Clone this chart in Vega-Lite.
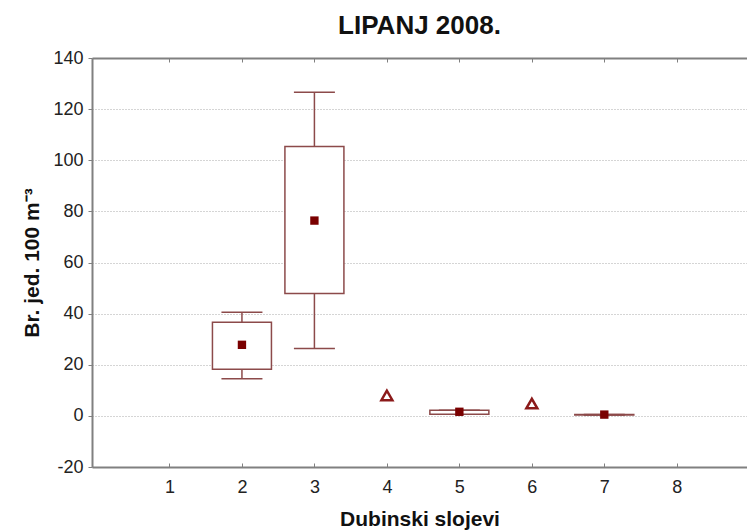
{
  "$schema": "https://vega.github.io/schema/vega-lite/v6.json",
  "width": 655,
  "height": 409,
  "autosize": "none",
  "padding": {"left": 92, "top": 58, "right": 0, "bottom": 65},
  "background": "white",
  "config": {
    "view": {"stroke": null},
    "font": "Liberation Sans"
  },
  "title": {
    "text": "LIPANJ 2008.",
    "fontSize": 26,
    "fontWeight": "bold",
    "font": "Liberation Sans",
    "color": "#111111",
    "anchor": "middle",
    "offset": 10
  },
  "datasets": {
    "boxes": [
      {"sloj": 2, "lo": 14.5, "q1": 18.2, "q3": 36.6, "hi": 40.5, "mean": 27.8},
      {"sloj": 3, "lo": 26.4, "q1": 47.9, "q3": 105.4, "hi": 126.6, "mean": 76.4},
      {"sloj": 5, "lo": 0.6, "q1": 0.6, "q3": 2.2, "hi": 2.2, "mean": 1.6},
      {"sloj": 7, "lo": 0.3, "q1": 0.3, "q3": 0.5, "hi": 0.5, "mean": 0.5}
    ],
    "single": [
      {"sloj": 4, "value": 8},
      {"sloj": 6, "value": 4.8}
    ]
  },
  "resolve": {"scale": {"x": "shared", "y": "shared"}, "axis": {"x": "independent"}},
  "layer": [
    {
      "data": {"name": "boxes"},
      "mark": {"type": "rule", "color": "#8c4a4a", "strokeWidth": 1.5},
      "encoding": {
        "x": {
          "field": "sloj", "type": "quantitative",
          "scale": {"domain": [0, 8.9], "nice": false, "zero": false},
          "axis": {
            "orient": "bottom",
            "title": "Dubinski slojevi",
            "values": [1, 2, 3, 4, 5, 6, 7, 8],
            "format": "d",
            "grid": false,
            "domainColor": "#808080",
            "domainWidth": 2,
            "tickColor": "#808080",
            "tickSize": -4,
            "tickWidth": 1,
            "labelFontSize": 18,
            "labelColor": "#222222",
            "labelPadding": 15,
            "titleFontSize": 21,
            "titleFontWeight": "bold",
            "titleColor": "#111111",
            "titlePadding": 12
          }
        },
        "y": {
          "field": "lo", "type": "quantitative",
          "scale": {"domain": [-20, 140], "nice": false, "zero": false},
          "axis": {
            "title": "Br. jed. 100 m⁻³",
            "values": [-20, 0, 20, 40, 60, 80, 100, 120, 140],
            "labelExpr": "datum.value",
            "grid": true,
            "gridColor": "#aaaaaa",
            "gridDash": [1, 2],
            "gridWidth": 1,
            "domainColor": "#808080",
            "domainWidth": 2,
            "tickColor": "#808080",
            "tickSize": 4,
            "labelFontSize": 18,
            "labelColor": "#222222",
            "labelPadding": 5,
            "titleFontSize": 21,
            "titleFontWeight": "bold",
            "titleColor": "#111111",
            "titlePadding": 10
          }
        },
        "y2": {"field": "hi"}
      }
    },
    {
      "data": {"name": "boxes"},
      "mark": {"type": "tick", "orient": "horizontal", "color": "#8c4a4a", "size": 41, "thickness": 1.5, "opacity": 1},
      "encoding": {
        "x": {"field": "sloj", "type": "quantitative", "axis": null},
        "y": {"field": "lo", "type": "quantitative"}
      }
    },
    {
      "data": {"name": "boxes"},
      "mark": {"type": "tick", "orient": "horizontal", "color": "#8c4a4a", "size": 41, "thickness": 1.5, "opacity": 1},
      "encoding": {
        "x": {"field": "sloj", "type": "quantitative", "axis": null},
        "y": {"field": "hi", "type": "quantitative"}
      }
    },
    {
      "data": {"name": "boxes"},
      "mark": {"type": "bar", "fill": "white", "stroke": "#8c4a4a", "strokeWidth": 1.5, "size": 59},
      "encoding": {
        "x": {"field": "sloj", "type": "quantitative", "axis": null},
        "y": {"field": "q1", "type": "quantitative"},
        "y2": {"field": "q3"}
      }
    },
    {
      "data": {"name": "boxes"},
      "mark": {"type": "point", "shape": "square", "filled": true, "color": "#7a0000", "size": 70, "opacity": 1},
      "encoding": {
        "x": {"field": "sloj", "type": "quantitative", "axis": null},
        "y": {"field": "mean", "type": "quantitative"}
      }
    },
    {
      "data": {"name": "single"},
      "mark": {"type": "point", "shape": "triangle-up", "filled": false, "color": "#8b1a1a", "strokeWidth": 2.5, "size": 120, "opacity": 1},
      "encoding": {
        "x": {
          "field": "sloj", "type": "quantitative",
          "axis": {
            "orient": "top",
            "title": null,
            "labels": false,
            "values": [1, 2, 3, 4, 5, 6, 7, 8],
            "grid": false,
            "domainColor": "#808080",
            "domainWidth": 2,
            "tickColor": "#808080",
            "tickSize": -4
          }
        },
        "y": {"field": "value", "type": "quantitative"}
      }
    }
  ]
}
